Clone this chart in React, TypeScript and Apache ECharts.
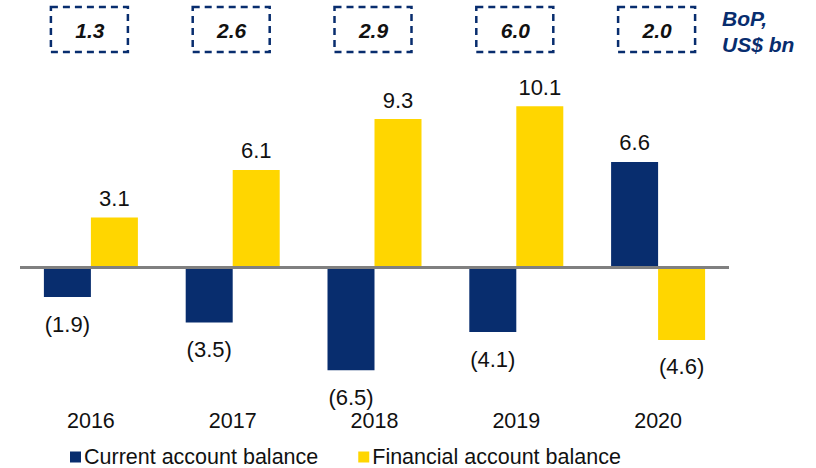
import React, { useEffect, useRef } from "react";
import * as echarts from "echarts";

const years = ["2016", "2017", "2018", "2019", "2020"];
const currentAccount = [-1.9, -3.5, -6.5, -4.1, 6.6];
const financialAccount = [3.1, 6.1, 9.3, 10.1, -4.6];
const bopValues = ["1.3", "2.6", "2.9", "6.0", "2.0"];

const NAVY = "#082D6E";
const YELLOW = "#FFD600";
const FONT = "Arial";

const fmt = (v: number) => (v < 0 ? `(${Math.abs(v).toFixed(1)})` : v.toFixed(1));

export default function App() {
  const ref = useRef<HTMLDivElement>(null);
  useEffect(() => {
    if (!ref.current) return;
    const chart = echarts.init(ref.current, null, { renderer: "svg" });
    const labelFor = (v: number) => ({
      show: true,
      position: v < 0 ? "bottom" : "top",
      distance: v < 0 ? 16 : 8,
      formatter: fmt(v),
      fontSize: 22,
      fontFamily: FONT,
      color: "#111",
    });
    chart.setOption({
      animation: false,
      grid: { left: 20, right: 87, top: 92, bottom: 74, containLabel: false },
      xAxis: {
        type: "category",
        data: years,
        axisLine: { show: false, onZero: false },
        axisTick: { show: false },
        axisLabel: { fontSize: 21.5, fontFamily: FONT, color: "#111", margin: 16 },
      },
      yAxis: {
        type: "value",
        min: -8,
        max: 11,
        show: false,
        splitLine: { show: false },
      },
      legend: {
        left: 65,
        top: 441,
        icon: "rect",
        itemWidth: 11,
        itemHeight: 11,
        itemGap: 40,
        textStyle: { fontSize: 21.5, fontFamily: FONT, color: "#111", padding: [0, 0, 0, -2] },
        data: ["Current account balance", "Financial account balance"],
      },
      series: [
        {
          name: "Current account balance",
          type: "bar",
          barWidth: 47,
          barGap: "0%",
          itemStyle: { color: NAVY },
          data: currentAccount.map((v) => ({ value: v, label: labelFor(v) })),
        },
        {
          name: "Financial account balance",
          type: "bar",
          barWidth: 47,
          barGap: "0%",
          itemStyle: { color: YELLOW },
          data: financialAccount.map((v) => ({ value: v, label: labelFor(v) })),
          markLine: {
            silent: true,
            symbol: "none",
            label: { show: false },
            lineStyle: { color: "#808080", width: 3, type: "solid" },
            data: [{ yAxis: 0 }],
          },
        },
      ],
    });
    const graphics: any[] = [];
    years.forEach((_, i) => {
      const cx = chart.convertToPixel({ xAxisIndex: 0 }, i) as number;
      graphics.push({
        type: "rect",
        shape: { x: cx - 40, y: 7, width: 77, height: 45 },
        style: { fill: "none", stroke: NAVY, lineWidth: 2.5, lineDash: [7, 5] },
      });
      graphics.push({
        type: "text",
        x: cx - 1,
        y: 30,
        style: {
          text: bopValues[i],
          fontSize: 21,
          fontWeight: "bold",
          fontStyle: "italic",
          fontFamily: FONT,
          fill: "#111",
          align: "center",
          verticalAlign: "middle",
        },
      });
    });
    graphics.push({
      type: "text",
      x: 722,
      y: 18,
      style: {
        text: "BoP,",
        fontSize: 21,
        fontWeight: "bold",
        fontStyle: "italic",
        fontFamily: FONT,
        fill: NAVY,
        align: "left",
        verticalAlign: "middle",
      },
    });
    graphics.push({
      type: "text",
      x: 722,
      y: 44,
      style: {
        text: "US$ bn",
        fontSize: 21,
        fontWeight: "bold",
        fontStyle: "italic",
        fontFamily: FONT,
        fill: NAVY,
        align: "left",
        verticalAlign: "middle",
      },
    });
    chart.setOption({ graphic: graphics });
    return () => chart.dispose();
  }, []);
  return (
    <div
      ref={ref}
      style={{ position: "absolute", left: 0, top: 0, width: 816, height: 468 }}
    />
  );
}
